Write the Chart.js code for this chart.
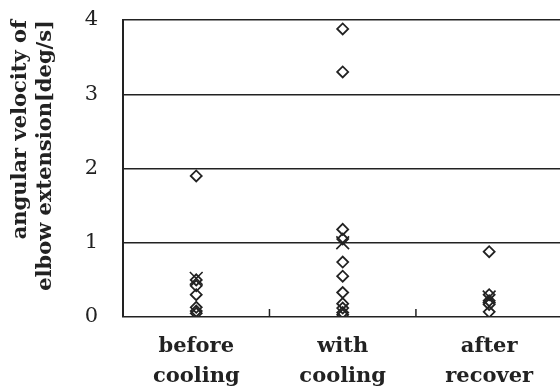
<!DOCTYPE html>
<html lang="en">
<head>
<meta charset="UTF-8">
<title>angular velocity</title>
<script src="https://cdn.jsdelivr.net/npm/chart.js"></script>
<style>
  html, body { margin: 0; padding: 0; overflow: hidden; background: #fff; }
  #wrap { width: 573px; height: 392px; }
</style>
</head>
<body>
<div id="wrap"><canvas id="myChart"></canvas></div>
<script>
// categories (x axis)
const categories = ['before cooling', 'with cooling', 'after recover'];

// individual values per condition (diamonds)
const beforeCooling = [1.9, 0.5, 0.42, 0.3, 0.13, 0.08, 0.05];
const withCooling = [3.88, 3.3, 1.18, 1.05, 0.74, 0.55, 0.33, 0.18, 0.12, 0.06, 0.03];
const afterRecover = [0.88, 0.3, 0.22, 0.17, 0.07];

// mean per condition (x marks)
const means = [0.52, 1.0, 0.27];

const yTicks = [0, 1, 2, 3, 4];

const groups = [beforeCooling, withCooling, afterRecover];
let points = [];
groups.forEach((vals, i) => {
  vals.forEach(v => points.push({ x: categories[i], y: v }));
});
const meanPoints = means.map((v, i) => ({ x: categories[i], y: v }));

// small upward ticks between categories on the bottom axis
const innerTicks = {
  id: 'innerTicks',
  afterDatasetsDraw(chart) {
    const x = chart.scales.x, y = chart.scales.y;
    const c = chart.ctx;
    const bottom = y.getPixelForValue(0);
    c.save();
    c.strokeStyle = '#222';
    c.lineWidth = 1.5;
    for (let i = 0; i < categories.length - 1; i++) {
      const px = (x.getPixelForTick(i) + x.getPixelForTick(i + 1)) / 2;
      c.beginPath();
      c.moveTo(px, bottom);
      c.lineTo(px, bottom - 8);
      c.stroke();
    }
    c.restore();
  }
};

const ctx = document.querySelector('#myChart');
const myChart = new Chart(ctx, {
  type: 'line',
  data: {
    labels: categories,
    datasets: [
      {
        label: 'individual',
        data: points,
        showLine: false,
        pointStyle: 'rectRot',
        pointRadius: 5.5,
        pointBorderWidth: 1.8,
        pointBorderColor: '#222',
        pointBackgroundColor: 'rgba(255,255,255,0)'
      },
      {
        label: 'mean',
        data: meanPoints,
        showLine: false,
        pointStyle: 'crossRot',
        pointRadius: 9,
        pointBorderWidth: 1.6,
        pointBorderColor: '#222'
      }
    ]
  },
  plugins: [innerTicks],
  options: {
    responsive: true,
    maintainAspectRatio: false,
    animation: false,
    layout: { padding: { top: 20, left: 6, right: 0, bottom: 0 } },
    plugins: {
      legend: { display: false },
      tooltip: { enabled: false }
    },
    scales: {
      x: {
        type: 'category',
        offset: true,
        grid: { display: false },
        border: { display: false },
        afterFit: s => { s.height = 75; s.paddingLeft = 0; s.paddingRight = 0; },
        ticks: {
          color: '#222',
          padding: 6,
          maxRotation: 0,
          font: { family: 'DejaVu Serif', size: 21, weight: 'bold', lineHeight: 1.45 },
          callback: (v, i) => categories[i].split(' ')
        }
      },
      y: {
        min: 0,
        max: 4,
        afterBuildTicks: s => { s.ticks = yTicks.map(v => ({ value: v })); },
        afterFit: s => { s.width = 117; s.paddingTop = 0; s.paddingBottom = 0; },
        grid: { color: '#222', lineWidth: 1.5, drawTicks: false },
        border: { color: '#222', width: 2 },
        ticks: {
          color: '#222',
          padding: 25,
          font: { family: 'DejaVu Serif', size: 21 }
        },
        title: {
          display: true,
          align: 'end',
          text: ['angular velocity of', 'elbow extension[deg/s]'],
          color: '#222',
          padding: { top: 2, bottom: 0 },
          font: { family: 'DejaVu Serif', size: 21, weight: 'bold', lineHeight: 1.2 }
        }
      }
    }
  }
});
</script>
</body>
</html>
